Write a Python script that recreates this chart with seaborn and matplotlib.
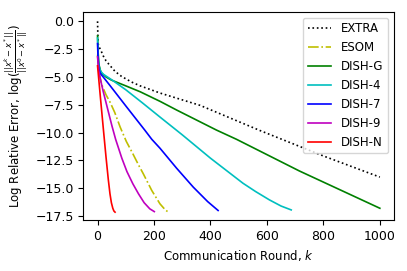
import numpy as np
import pandas as pd
import matplotlib
matplotlib.use("Agg")
import matplotlib.pyplot as plt
import seaborn as sns

# -------------------- data --------------------
extra_k = [0, 1, 2, 5, 10, 20, 30, 45, 62, 85, 120, 151, 222, 363, 574, 800, 1000]
extra_err = [0.0, -1.2, -2.0, -2.3, -2.5, -3.1, -3.55, -4.0, -4.5, -4.95, -5.45,
             -5.8, -6.45, -7.55, -9.8, -12.1, -14.0]

esom_k = [0, 5, 15, 30, 45, 61, 80, 102, 125, 145, 162, 192, 221, 240, 251]
esom_err = [-3.0, -4.6, -5.7, -6.6, -7.3, -8.2, -9.5, -10.8, -11.9, -12.9, -13.7,
            -15.2, -16.4, -16.95, -17.15]

dishg_k = [0, 2, 5, 10, 14, 30, 49, 100, 151, 222, 280, 421, 492, 715, 1000]
dishg_err = [-1.3, -2.8, -3.9, -4.4, -4.65, -5.0, -5.28, -5.8, -6.33, -7.2, -7.97,
             -9.77, -10.6, -13.45, -16.8]

dish4_k = [0, 2, 5, 10, 20, 50, 100, 160, 221, 300, 400, 515, 560, 609, 650, 686]
dish4_err = [-1.5, -3.2, -4.0, -4.45, -4.75, -5.25, -6.15, -7.35, -8.6, -10.2, -12.3,
             -14.55, -15.3, -16.05, -16.6, -16.95]

dish7_k = [0, 2, 5, 10, 20, 45, 100, 168, 192, 221, 280, 339, 390, 427]
dish7_err = [-2.0, -3.5, -4.3, -4.7, -5.0, -5.8, -7.6, -9.8, -10.6, -11.4, -13.2,
             -14.9, -16.2, -17.0]

dish9_k = [0, 4, 10, 20, 30, 40, 51, 64, 86, 104, 125, 145, 165, 185, 201]
dish9_err = [-3.2, -4.4, -5.2, -6.3, -7.3, -8.3, -9.4, -10.6, -12.3, -13.5, -14.6,
             -15.5, -16.3, -16.85, -17.1]

dishn_k = [0, 10, 21, 30, 38, 44, 49, 54, 58, 62]
dishn_err = [-4.0, -6.8, -9.8, -12.2, -14.2, -15.5, -16.3, -16.8, -17.05, -17.15]

methods = ["EXTRA", "ESOM", "DISH-G", "DISH-4", "DISH-7", "DISH-9", "DISH-N"]
rounds = [extra_k, esom_k, dishg_k, dish4_k, dish7_k, dish9_k, dishn_k]
errors = [extra_err, esom_err, dishg_err, dish4_err, dish7_err, dish9_err, dishn_err]

colors = ["k", "y", "g", "c", "b", "m", "r"]
styles = [":", "-.", "-", "-", "-", "-", "-"]

# -------------------- plot --------------------
plt.rcParams["font.size"] = 8
plt.rcParams["font.family"] = ["DejaVu Sans"]

fig, ax = plt.subplots(figsize=(4.07, 2.71), dpi=100)
fig.subplots_adjust(left=0.205, right=0.968, top=0.957, bottom=0.188)

for name, k, err, c, ls in zip(methods, rounds, errors, colors, styles):
    df = pd.DataFrame({"k": k, "err": err})
    sns.lineplot(data=df, x="k", y="err", ax=ax, color=c, linestyle=ls,
                 linewidth=1.2, label=name)

ax.set_xlim(-50, 1050)
ax.set_ylim(-17.86, 0.87)
ax.set_xticks([0, 200, 400, 600, 800, 1000])
ax.set_yticks(np.arange(0, -17.6, -2.5))
ax.tick_params(labelsize=9)
ax.set_xlabel("Communication Round, $k$", fontsize=8.5)
ax.set_ylabel(r"Log Relative Error, $\log(\frac{||x^k-x^*||}{||x^0-x^*||})$", fontsize=8.5)
ax.legend(loc="upper right", fontsize=8.5)

fig.savefig("out.png", dpi=100)
